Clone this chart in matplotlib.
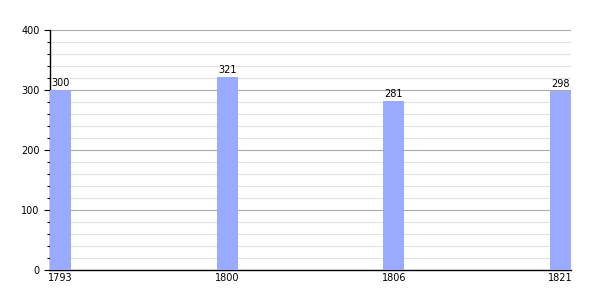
import matplotlib; matplotlib.use('Agg')
import matplotlib.pyplot as plt
from matplotlib.ticker import MultipleLocator

years = ['1793', '1800', '1806', '1821']
population = [300, 321, 281, 298]

W = 0.126
fig = plt.figure(figsize=(6, 3), dpi=100)
ax = fig.add_axes([50/600, 30/300, 521/600, 240/300])
x = list(range(len(years)))
ax.bar(x, population, width=W, align='edge', color='#99aaff', zorder=3)
for xi, v in zip(x, population):
    ax.text(xi + W/2, v + 4, str(v), ha='center', va='bottom', fontsize=7, zorder=4)

ax.set_xlim(0, len(years) - 1 + W)
ax.set_ylim(0, 400)
ax.set_xticks([xi + W/2 for xi in x])
ax.set_xticklabels(years, fontsize=7)
ax.tick_params(axis='x', length=0, pad=2)
ax.yaxis.set_major_locator(MultipleLocator(100))
ax.yaxis.set_minor_locator(MultipleLocator(20))
ax.tick_params(axis='y', which='major', labelsize=7, length=4, width=0.8)
ax.tick_params(axis='y', which='minor', length=2, width=0.8)
ax.grid(axis='y', which='major', color='#aaaaaa', linewidth=0.8, zorder=1)
ax.grid(axis='y', which='minor', color='#e2e2e2', linewidth=0.8, zorder=1)
for s in ['top', 'right']:
    ax.spines[s].set_visible(False)
ax.spines['left'].set_linewidth(1)
ax.spines['bottom'].set_linewidth(1)
fig.savefig('out.png', dpi=100)
